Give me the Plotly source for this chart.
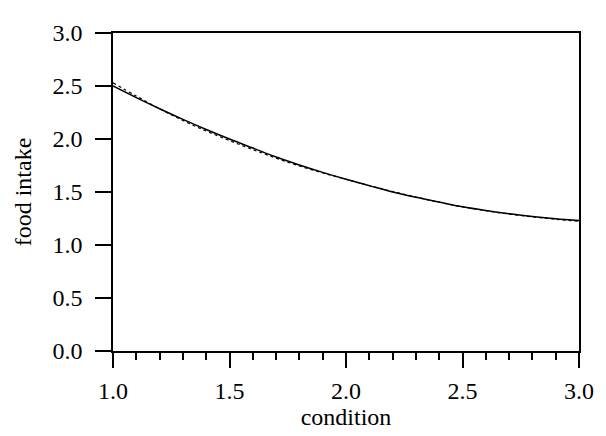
import plotly.graph_objects as go

condition = [1.0, 1.1, 1.2, 1.3, 1.4, 1.5, 1.6, 1.7, 1.8, 1.9, 2.0,
             2.1, 2.2, 2.3, 2.4, 2.5, 2.6, 2.7, 2.8, 2.9, 3.0]
intake_solid = [2.50, 2.39, 2.285, 2.185, 2.09, 2.00, 1.915, 1.83, 1.755, 1.685, 1.62,
                1.56, 1.50, 1.45, 1.405, 1.36, 1.325, 1.295, 1.27, 1.248, 1.23]
intake_dotted = [2.53, 2.405, 2.285, 2.175, 2.075, 1.985, 1.90, 1.82, 1.745, 1.68, 1.62,
                 1.56, 1.505, 1.452, 1.403, 1.36, 1.323, 1.292, 1.266, 1.243, 1.225]

x_ticks = [1.0, 1.5, 2.0, 2.5, 3.0]
y_ticks = [0.0, 0.5, 1.0, 1.5, 2.0, 2.5, 3.0]

FONT = "Liberation Serif"
FS = 24

fig = go.Figure()
fig.add_trace(go.Scatter(x=condition, y=intake_dotted, mode="lines",
                         line=dict(color="black", width=1.2, dash="dot", shape="spline"),
                         showlegend=False))
fig.add_trace(go.Scatter(x=condition, y=intake_solid, mode="lines",
                         line=dict(color="black", width=1.5, shape="spline"),
                         showlegend=False))

# page body has an 8px default margin, so the figure is sized to fill the rest
fig.update_layout(
    width=598, height=428,
    margin=dict(l=105, r=18, t=16, b=77),
    paper_bgcolor="white", plot_bgcolor="white",
    font=dict(family=FONT, size=FS, color="black"),
    xaxis=dict(
        range=[1.0, 3.0], tickvals=x_ticks, ticktext=[f"{v:.1f}" for v in x_ticks],
        ticks="outside", ticklen=15, tickwidth=1.5, tickcolor="black",
        showline=True, linecolor="black", linewidth=1.5, mirror=True,
        showgrid=False, zeroline=False,
        minor=dict(dtick=0.1, tick0=1.0, ticks="outside", ticklen=7, tickwidth=1.5,
                   tickcolor="black", showgrid=False),
        title=dict(text="condition", font=dict(family=FONT, size=FS), standoff=4),
        tickfont=dict(family=FONT, size=FS),
        ticklabelstandoff=2,
    ),
    yaxis=dict(
        range=[0.0, 3.0], tickvals=y_ticks, ticktext=[f"{v:.1f}" for v in y_ticks],
        ticks="outside", ticklen=16, tickwidth=1.5, tickcolor="black",
        showline=True, linecolor="black", linewidth=1.5, mirror=True,
        showgrid=False, zeroline=False,
        title=dict(text="food intake", font=dict(family=FONT, size=FS), standoff=14),
        tickfont=dict(family=FONT, size=FS),
        ticklabelstandoff=8,
    ),
)

fig.write_html("out.html")
